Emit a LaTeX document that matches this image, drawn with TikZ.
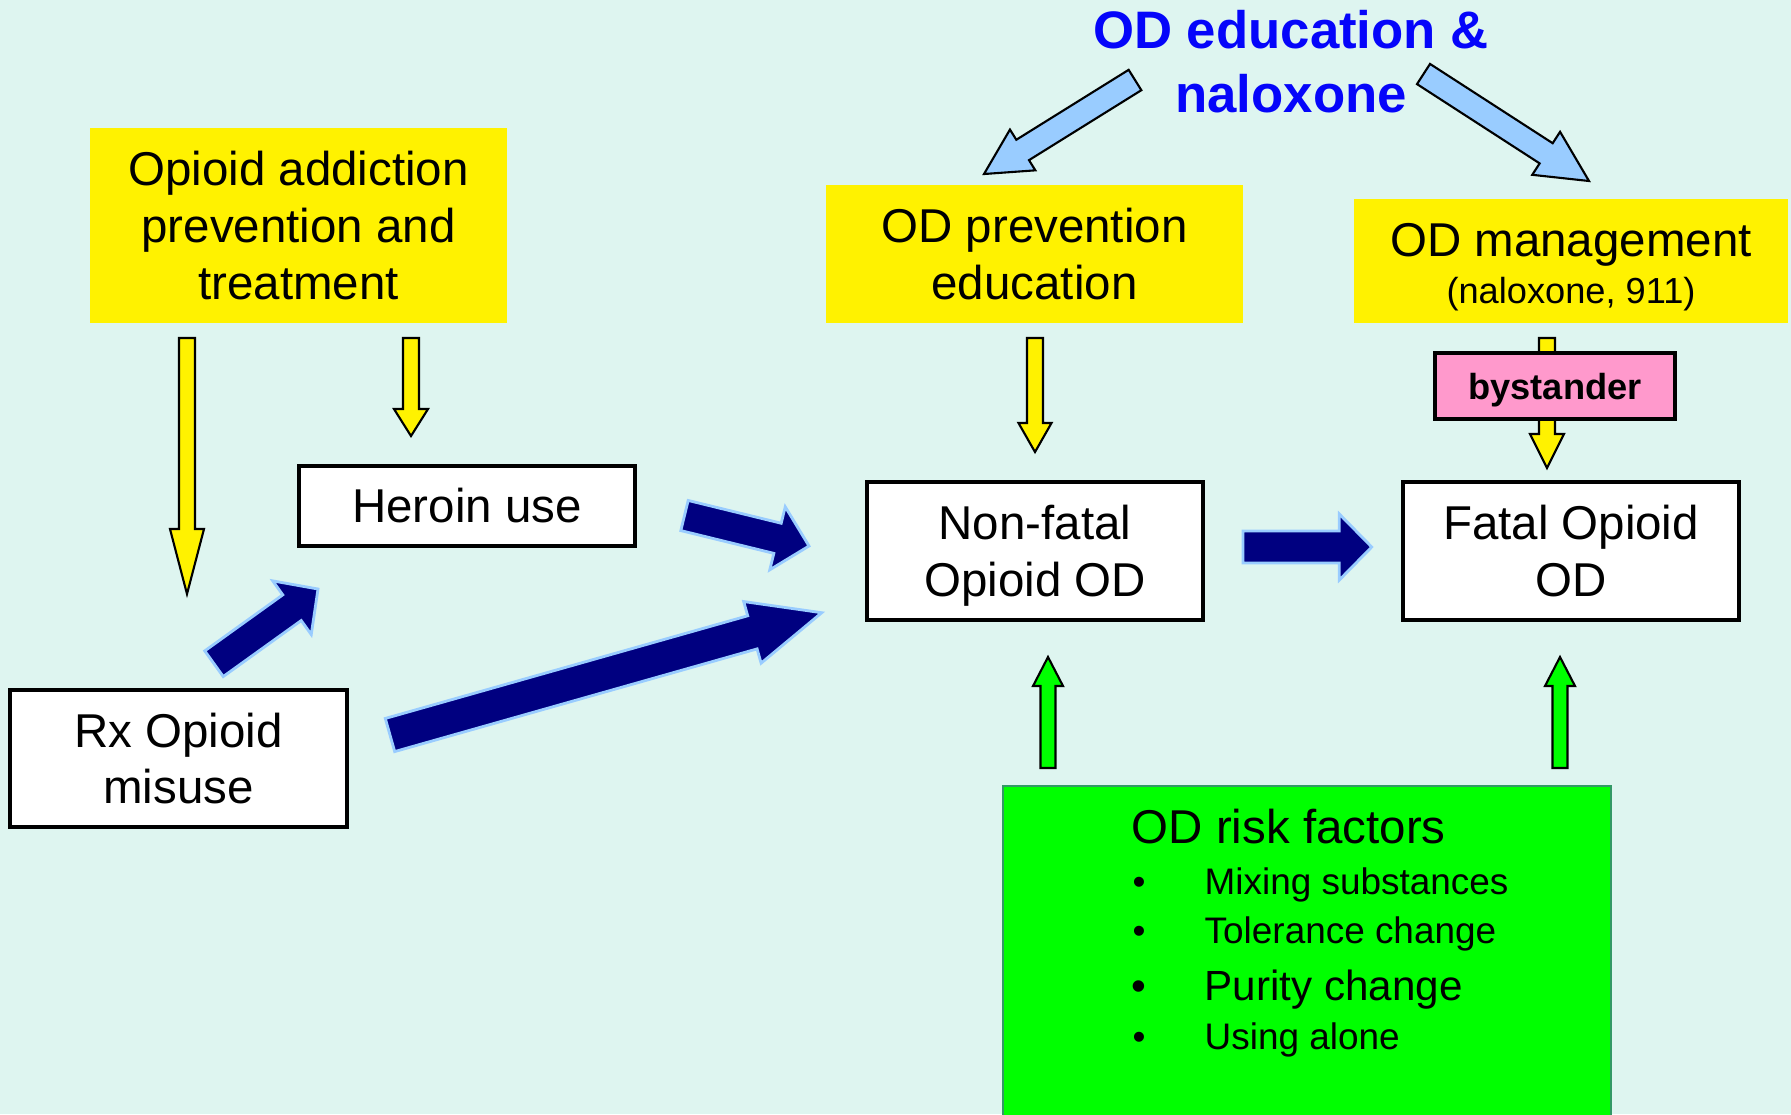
\documentclass[tikz,border=0pt]{standalone}
\usepackage{fontspec}
\setmainfont{Liberation Sans}
\usetikzlibrary{calc}

\definecolor{bgcol}{RGB}{222,245,240}
\definecolor{navy}{RGB}{0,0,128}
\definecolor{skyline}{RGB}{153,204,255}
\definecolor{pinkbox}{RGB}{255,153,204}
\definecolor{riskline}{RGB}{51,153,102}
\definecolor{titleblue}{RGB}{5,5,250}

% block arrow: style, tail, tip, half shaft, half head, head length
\newcommand{\blockarrow}[6]{%
	\coordinate (ba-h) at ($(#3)!#6!(#2)$);
	\draw[#1] ($(#2)!#4!90:(#3)$) -- ($(ba-h)!#4!-90:(#2)$) -- ($(ba-h)!#5!-90:(#2)$)
	-- (#3) -- ($(ba-h)!#5!90:(#2)$) -- ($(ba-h)!#4!90:(#2)$) -- ($(#2)!#4!-90:(#3)$) -- cycle;
}

\begin{document}
\begin{tikzpicture}
	[x=0.01cm, y=-0.01cm,
	every node/.style={inner sep=0pt},
	plainbox/.style={draw,fill=white,line width=1pt,align=center,font=\fontsize{13.5}{16.2}\selectfont},
	yellowbox/.style={fill=yellow,align=center,font=\fontsize{13.5}{16.2}\selectfont},
	yellowarrow/.style={fill=yellow,draw=black,line width=0.6pt},
	greenarrow/.style={fill=green,draw=black,line width=0.6pt},
	skyarrow/.style={fill=skyline,draw=black,line width=0.6pt},
	navyarrow/.style={fill=navy,draw=skyline,line width=0.8pt},
	item/.style={anchor=base west,font=\fontsize{10.5}{12}\selectfont},
	dot/.style={anchor=base,font=\fontsize{10.5}{12}\selectfont}]
	\fill[bgcol] (0,0) rectangle (1791,1114);
	\useasboundingbox (0,0) rectangle (1791,1114);

	\node[font=\bfseries\fontsize{15}{18}\selectfont,text=titleblue,align=center] (title) at (1291,61.5) {OD education \&\\naloxone};

	\node[yellowbox,minimum width=4.17cm,minimum height=1.95cm] (addiction) at (298.5,225.5) {Opioid addiction\\prevention and\\treatment};
	\node[yellowbox,minimum width=4.17cm,minimum height=1.38cm] (prevedu) at (1034.5,254) {OD prevention\\education};
	\node[yellowbox,minimum width=4.34cm,minimum height=1.24cm] (management) at (1571,261) {};
	\node[align=center,font=\fontsize{13.5}{16.2}\selectfont] (managementtext) at (1571,267) {OD management\\[-3pt]{\fontsize{10.3}{12}\selectfont (naloxone, 911)}};

	\node[plainbox,minimum width=3.36cm,minimum height=0.8cm] (heroin) at (467,506) {Heroin use};
	\node[plainbox,minimum width=3.36cm,minimum height=1.38cm,text depth=0pt] (nonfatal) at (1035,551) {Non-fatal\\Opioid OD};
	\node[plainbox,minimum width=3.36cm,minimum height=1.38cm] (fatal) at (1571,551) {Fatal Opioid\\OD};
	\node[plainbox,minimum width=3.37cm,minimum height=1.37cm] (rx) at (178.5,758.5) {Rx Opioid\\misuse};

	% arrow ends
	\coordinate (title-l) at (1135,80);
	\coordinate (prevedu-in) at (984,174);
	\coordinate (title-r) at (1423.5,74);
	\coordinate (management-in) at (1589,181);
	\coordinate (addiction-l) at (187,338);
	\coordinate (addiction-ll) at (187,594);
	\coordinate (addiction-r) at (411,338);
	\coordinate (heroin-in) at (411,436);
	\coordinate (prevedu-out) at (1035,338);
	\coordinate (nonfatal-top) at (1035,452);
	\coordinate (management-out) at (1547,338);
	\coordinate (fatal-top) at (1547,468);
	\coordinate (heroin-out) at (684.5,515.5);
	\coordinate (nonfatal-in) at (809,546);
	\coordinate (rx-up) at (214,663.7);
	\coordinate (heroin-low) at (318,589);
	\coordinate (rx-out) at (390,735);
	\coordinate (nonfatal-low) at (821.7,612.7);
	\coordinate (nonfatal-out) at (1243,547);
	\coordinate (fatal-in) at (1371.7,547);
	\coordinate (risk-l) at (1048,768);
	\coordinate (nonfatal-bot) at (1048,657);
	\coordinate (risk-r) at (1560,768);
	\coordinate (fatal-bot) at (1560,657);

	\blockarrow{skyarrow}{title-l}{prevedu-in}{0.12cm}{0.24cm}{0.455cm}
	\blockarrow{skyarrow}{title-r}{management-in}{0.12cm}{0.256cm}{0.51cm}
	\blockarrow{yellowarrow}{addiction-l}{addiction-ll}{0.08cm}{0.17cm}{0.65cm}
	\blockarrow{yellowarrow}{addiction-r}{heroin-in}{0.08cm}{0.17cm}{0.27cm}
	\blockarrow{yellowarrow}{prevedu-out}{nonfatal-top}{0.08cm}{0.165cm}{0.29cm}
	\blockarrow{yellowarrow}{management-out}{fatal-top}{0.08cm}{0.17cm}{0.34cm}
	\blockarrow{navyarrow}{heroin-out}{nonfatal-in}{0.155cm}{0.324cm}{0.324cm}
	\blockarrow{navyarrow}{rx-up}{heroin-low}{0.158cm}{0.33cm}{0.32cm}
	\blockarrow{navyarrow}{rx-out}{nonfatal-low}{0.172cm}{0.32cm}{0.72cm}
	\blockarrow{navyarrow}{nonfatal-out}{fatal-in}{0.16cm}{0.33cm}{0.324cm}
	\blockarrow{greenarrow}{risk-l}{nonfatal-bot}{0.075cm}{0.15cm}{0.29cm}
	\blockarrow{greenarrow}{risk-r}{fatal-bot}{0.075cm}{0.15cm}{0.29cm}

	\node[draw,fill=pinkbox,line width=1pt,minimum width=2.4cm,minimum height=0.66cm,text depth=0pt,font=\bfseries\fontsize{10.3}{12}\selectfont] (bystander) at (1555,386) {bystander};

	% risk factors
	\node[draw=riskline,fill=green,line width=0.6pt,minimum width=6.08cm,minimum height=3.4cm] (risk) at (1307,956) {};
	\node[anchor=base west,font=\fontsize{13.5}{16}\selectfont] (riskhead) at (1131,843) {OD risk factors};
	\node[dot] (d1) at (1139,894) {\textbullet};
	\node[item] (mixing) at (1204,894) {Mixing substances};
	\node[dot] (d2) at (1139,943) {\textbullet};
	\node[item] (tolerance) at (1204,943) {Tolerance change};
	\node[dot,font=\fontsize{12}{14}\selectfont] (d3) at (1139,1000) {\textbullet};
	\node[item,font=\fontsize{12}{14}\selectfont] (purity) at (1204,1000) {Purity change};
	\node[dot] (d4) at (1139,1049) {\textbullet};
	\node[item] (alone) at (1204,1049) {Using alone};
\end{tikzpicture}
\end{document}
